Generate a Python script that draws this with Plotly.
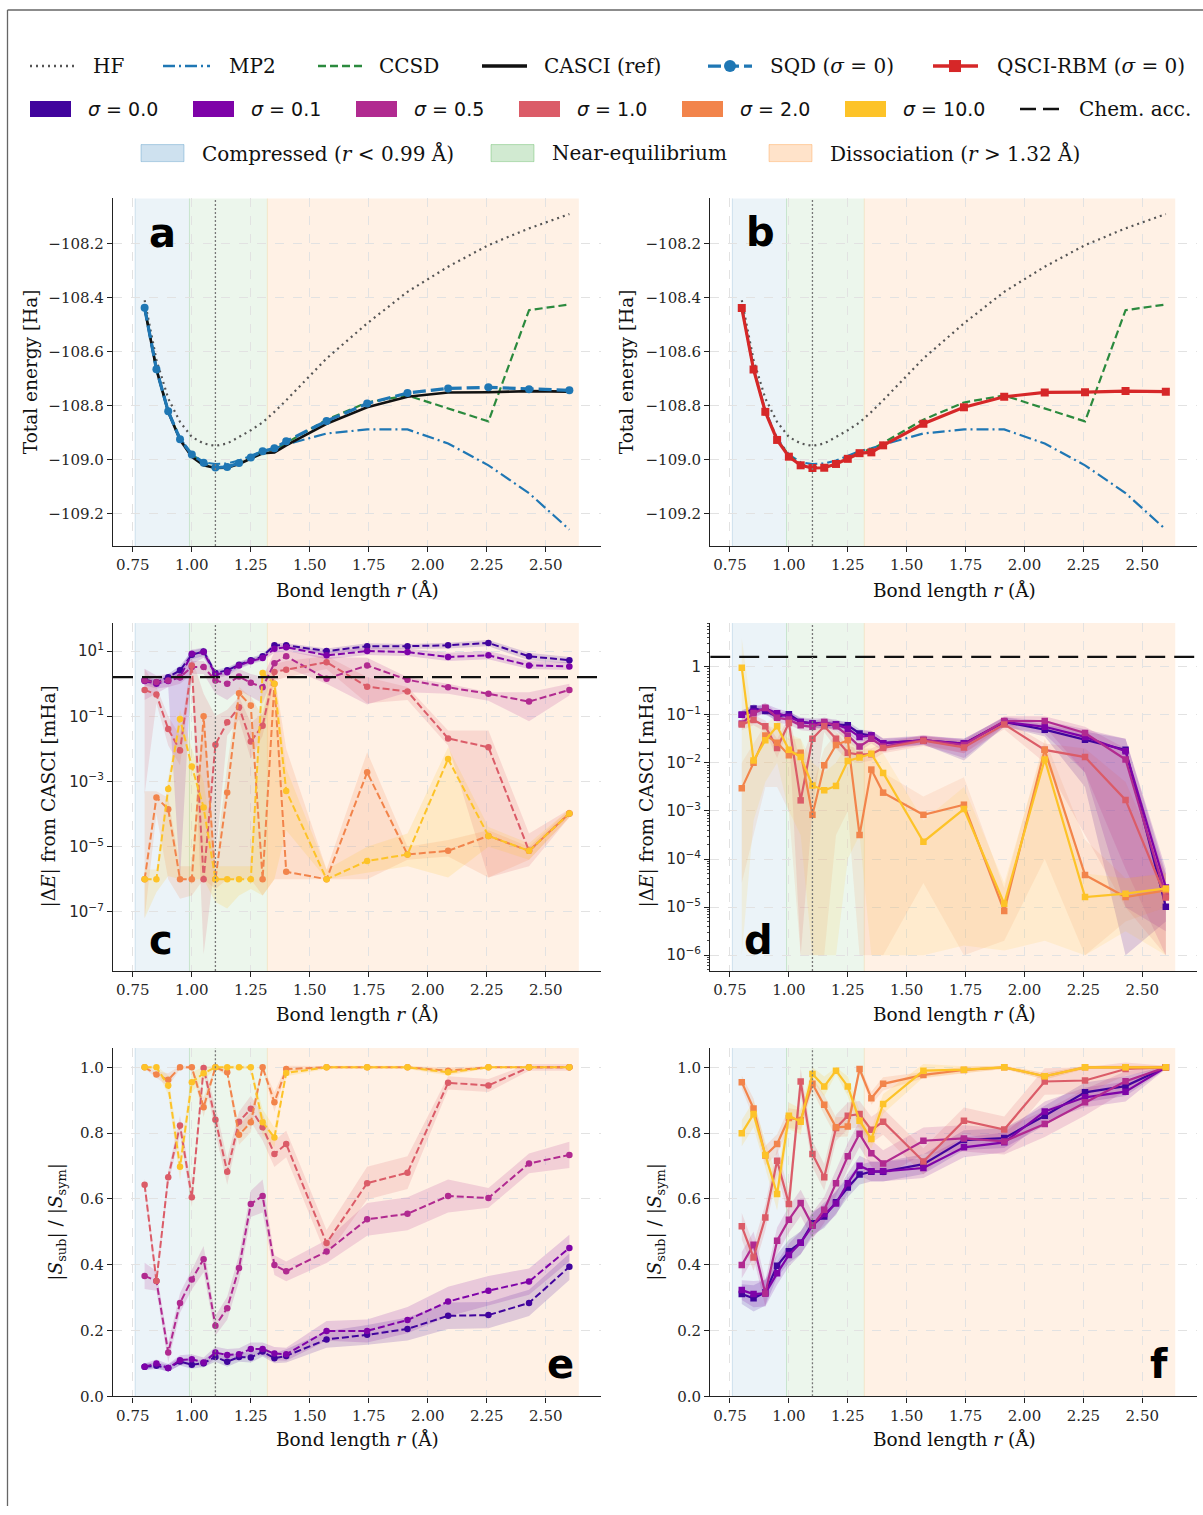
import plotly.graph_objects as go

W, H = 1203, 1515  # figure canvas in px
K = 1525 / 1515    # vertical layout factor applied to every pixel position

# ---------------------------------------------------------------- data
r = [0.80, 0.85, 0.90, 0.95, 1.00, 1.05, 1.10, 1.15, 1.20, 1.25, 1.30, 1.35,
     1.40, 1.571, 1.743, 1.914, 2.086, 2.257, 2.429, 2.60]
r_eq = 1.10
r_comp, r_diss = 0.99, 1.32
span_lo, span_hi = 0.76, 2.64
chem_acc = 1.6  # mHa

x_ticks = [0.75, 1.00, 1.25, 1.50, 1.75, 2.00, 2.25, 2.50]
x_ticktext = ["0.75", "1.00", "1.25", "1.50", "1.75", "2.00", "2.25", "2.50"]

# total energies [Ha]
e_hf = [-108.409, -108.630, -108.773, -108.860, -108.916, -108.940, -108.949, -108.940,
        -108.916, -108.891, -108.862, -108.823, -108.780, -108.625, -108.495, -108.378,
        -108.285, -108.205, -108.143, -108.090]
e_mp2 = [-108.432, -108.662, -108.818, -108.921, -108.981, -109.010, -109.016, -109.014,
         -109.003, -108.986, -108.968, -108.958, -108.944, -108.903, -108.888, -108.888,
         -108.940, -109.021, -109.124, -109.259]
e_ccsd = [-108.437, -108.665, -108.821, -108.925, -108.985, -109.016, -109.028, -109.026,
          -109.013, -108.993, -108.972, -108.962, -108.938, -108.852, -108.788, -108.762,
          -108.810, -108.858, -108.446, -108.425]
e_casci = [-108.438, -108.666, -108.823, -108.927, -108.989, -109.021, -109.031, -109.030,
           -109.016, -108.997, -108.976, -108.973, -108.947, -108.867, -108.806, -108.767,
           -108.751, -108.750, -108.746, -108.748]
e_sqd = [-108.437, -108.665, -108.821, -108.924, -108.981, -109.011, -109.029, -109.027,
         -109.012, -108.992, -108.969, -108.958, -108.932, -108.857, -108.792, -108.753,
         -108.736, -108.732, -108.739, -108.743]
e_rbm = [-108.4379, -108.6659, -108.8229, -108.9269, -108.9889, -109.0209, -109.0309,
         -109.0299, -109.0159, -108.9969, -108.9759, -108.9729, -108.9469, -108.8669,
         -108.8059, -108.7669, -108.7509, -108.7499, -108.7459, -108.7480]

sigma_names = ["0.0", "0.1", "0.5", "1.0", "2.0", "10.0"]
sigma_colors = ["#41049d", "#7e03a8", "#b12a90", "#db5c68", "#f2844b", "#fdc328"]

# log10 |dE| [mHa], SQD (line, upper, lower)
c_s00 = [0.12, 0.04, 0.20, 0.41, 0.89, 0.99, 0.33, 0.41, 0.58, 0.72, 0.84, 1.18, 1.18, 1.00, 1.15, 1.15, 1.18, 1.25, 0.84, 0.72]
c_s00_hi = [0.22, 0.14, 0.30, 0.55, 1.00, 1.10, 0.43, 0.50, 0.67, 0.80, 0.92, 1.26, 1.24, 1.08, 1.24, 1.22, 1.26, 1.34, 0.95, 0.82]
c_s00_lo = [0.02, -0.08, 0.08, 0.30, 0.75, 0.85, 0.22, 0.30, 0.48, 0.62, 0.74, 1.08, 1.10, 0.90, 1.05, 1.07, 1.08, 1.15, 0.72, 0.62]
c_s01 = [0.08, 0.00, 0.08, 0.20, 0.92, 0.97, 0.28, 0.35, 0.56, 0.69, 0.79, 1.07, 1.12, 0.87, 1.00, 0.97, 0.82, 0.87, 0.56, 0.53]
c_s01_hi = [0.20, 0.12, 0.20, 0.45, 1.05, 1.10, 0.40, 0.45, 0.66, 0.78, 0.88, 1.16, 1.20, 0.97, 1.10, 1.08, 0.95, 1.00, 0.70, 0.66]
c_s01_lo = [-0.05, -0.15, -0.10, -6.0, 0.60, 0.80, 0.15, 0.25, 0.45, 0.60, 0.70, 0.95, 1.00, 0.75, 0.88, 0.85, 0.70, 0.75, 0.45, 0.42]
c_s05 = [0.10, 0.05, 0.10, 0.20, 0.51, 0.51, 0.10, 0.00, 0.22, 0.03, -0.11, 0.63, 0.84, 0.15, 0.56, 0.12, -0.11, -0.31, -0.55, -0.19]
c_s05_hi = [0.46, 0.25, 0.30, 0.40, 0.70, 0.70, 0.30, 0.30, 0.45, 0.30, 0.20, 0.97, 1.00, 0.82, 0.80, 0.20, 0.00, -0.26, -0.26, 0.00]
c_s05_lo = [-0.50, -0.30, -0.10, 0.00, 0.30, 0.30, -0.30, -0.50, -0.20, -0.40, -0.60, 0.30, 0.50, 0.00, -0.64, -0.26, -0.31, -0.52, -1.15, -0.36]
c_s10 = [-0.19, -0.33, -1.39, -2.05, 0.56, -6.0, -1.87, -1.18, -0.72, -1.77, -1.29, 0.36, 0.43, 0.66, -0.09, -0.24, -1.68, -1.95, -5.13, -3.98]
c_s10_hi = [0.46, -0.10, -1.00, -1.60, 0.80, -0.30, -1.00, -0.80, -0.40, -1.20, -0.90, 0.60, 0.70, 0.85, 0.20, -0.10, -1.44, -1.44, -4.60, -3.85]
c_s10_lo = [-3.40, -0.60, -1.90, -2.50, 0.20, -8.30, -5.40, -1.60, -1.10, -2.30, -1.60, 0.10, 0.20, 0.45, -0.60, -0.50, -1.90, -5.95, -5.60, -4.10]
c_s20 = [-6.0, -3.49, -3.85, -6.0, -6.0, -1.00, -6.0, -3.34, -0.29, -0.67, -6.0, 0.00, -5.77, -6.0, -2.72, -5.24, -5.13, -4.67, -5.13, -3.98]
c_s20_hi = [-3.30, -3.30, -3.50, -5.60, -5.60, -0.80, -5.50, -2.50, -0.10, -0.40, -1.00, 0.30, -2.00, -5.70, -2.10, -5.00, -4.80, -4.50, -5.00, -3.85]
c_s20_lo = [-7.20, -4.00, -6.00, -6.60, -6.50, -6.00, -6.30, -6.00, -6.00, -6.00, -6.50, -6.00, -6.00, -6.00, -6.00, -5.40, -5.30, -5.95, -5.40, -4.10]
c_s100 = [-6.0, -6.0, -3.23, -1.08, -2.54, -3.80, -6.0, -6.0, -6.0, -6.0, 0.33, 0.00, -3.29, -6.0, -5.44, -5.24, -2.31, -4.67, -5.13, -3.98]
c_s100_hi = [-5.70, -5.70, -2.90, -0.80, -2.00, -3.00, -5.60, -5.60, -5.60, -5.60, 0.45, 0.30, -2.60, -5.70, -5.00, -4.60, -1.95, -4.40, -4.90, -3.85]
c_s100_lo = [-7.20, -6.40, -5.90, -6.00, -6.00, -6.00, -6.70, -6.90, -6.50, -6.30, -6.50, -6.00, -4.50, -6.00, -5.80, -5.60, -5.95, -5.00, -5.40, -4.10]

# log10 |dE| [mHa], QSCI-RBM (line, upper, lower)
d_s00 = [-1.00, -0.87, -0.92, -1.04, -0.99, -1.15, -1.18, -1.22, -1.20, -1.22, -1.39, -1.43, -1.59, -1.53, -1.60, -1.15, -1.31, -1.52, -1.73, -4.99]
d_s00_hi = [-0.92, -0.78, -0.84, -0.96, -0.92, -1.08, -1.10, -1.14, -1.12, -1.14, -1.30, -1.34, -1.50, -1.45, -1.50, -1.05, -1.20, -1.35, -1.50, -4.30]
d_s00_lo = [-1.08, -0.95, -1.00, -1.12, -1.06, -1.22, -1.26, -1.30, -1.28, -1.30, -1.48, -1.52, -1.68, -1.62, -1.95, -1.25, -1.45, -2.50, -6.00, -5.30]
d_s01 = [-1.00, -0.94, -0.87, -0.97, -1.04, -1.15, -1.18, -1.17, -1.20, -1.29, -1.46, -1.43, -1.59, -1.53, -1.60, -1.15, -1.25, -1.46, -1.76, -4.59]
d_s01_hi = [-0.90, -0.84, -0.77, -0.87, -0.94, -1.05, -1.08, -1.07, -1.10, -1.19, -1.36, -1.33, -1.49, -1.43, -1.50, -1.05, -1.12, -1.30, -1.50, -4.20]
d_s01_lo = [-1.10, -1.04, -0.97, -1.07, -1.14, -1.25, -1.28, -1.27, -1.30, -1.39, -1.56, -1.53, -1.69, -1.63, -1.90, -1.25, -1.40, -2.20, -5.00, -5.50]
d_s05 = [-1.18, -0.97, -0.855, -1.06, -1.10, -1.22, -1.25, -1.15, -1.24, -1.43, -1.66, -1.50, -1.66, -1.52, -1.63, -1.13, -1.13, -1.38, -1.93, -4.77]
d_s05_hi = [-1.08, -0.87, -0.75, -0.96, -1.00, -1.12, -1.15, -1.05, -1.14, -1.33, -1.56, -1.40, -1.56, -1.42, -1.53, -1.03, -1.03, -1.25, -1.70, -4.40]
d_s05_lo = [-1.28, -1.07, -0.96, -1.16, -1.20, -1.32, -1.35, -1.25, -1.34, -1.53, -1.76, -1.60, -1.76, -1.62, -1.80, -1.23, -1.25, -2.20, -4.20, -6.00]
d_s10 = [-1.20, -1.11, -1.24, -1.69, -1.17, -2.78, -1.50, -1.24, -1.50, -1.79, -1.83, -1.82, -1.69, -1.54, -1.68, -1.20, -1.73, -1.88, -2.77, -4.80]
d_s10_hi = [-1.10, -1.00, -1.12, -1.50, -1.05, -2.00, -1.30, -1.12, -1.35, -1.65, -1.70, -1.70, -1.58, -1.44, -1.56, -1.10, -1.60, -1.70, -2.40, -4.30]
d_s10_lo = [-1.32, -1.22, -1.36, -1.90, -1.30, -6.00, -3.00, -1.36, -1.70, -1.95, -2.00, -1.95, -1.80, -1.65, -1.80, -1.30, -2.00, -3.50, -5.00, -6.00]
d_s20 = [-2.53, -2.00, -1.43, -1.58, -1.84, -1.79, -3.08, -2.05, -1.63, -1.53, -3.50, -2.14, -2.62, -3.08, -2.87, -5.08, -1.73, -4.33, -4.79, -4.65]
d_s20_hi = [-2.00, -1.60, -1.20, -1.30, -1.50, -1.50, -2.50, -1.70, -1.40, -1.30, -2.00, -1.70, -2.20, -2.70, -2.30, -4.60, -1.50, -3.60, -4.40, -4.30]
d_s20_lo = [-4.50, -3.50, -2.50, -2.50, -3.00, -6.00, -6.00, -6.00, -3.50, -3.00, -6.00, -6.00, -6.00, -4.50, -6.00, -5.70, -4.00, -6.00, -5.30, -5.00]
d_s100 = [-0.02, -1.95, -1.53, -1.24, -1.73, -1.88, -2.47, -2.57, -2.48, -1.96, -1.89, -1.81, -2.21, -3.64, -2.96, -4.93, -1.93, -4.79, -4.72, -4.61]
d_s100_hi = [0.59, -1.20, -1.20, -1.00, -1.40, -1.50, -2.00, -2.20, -2.00, -1.60, -1.60, -1.50, -1.80, -3.20, -2.50, -4.50, -1.60, -4.30, -4.40, -4.30]
d_s100_lo = [-6.00, -3.20, -2.40, -2.00, -3.00, -3.50, -6.00, -6.00, -6.00, -4.00, -3.50, -6.00, -6.00, -6.00, -5.80, -5.90, -5.70, -6.00, -5.50, -6.00]

# |S_sub| / |S_sym|, SQD (line, band half-width)
e_s00 = [0.090, 0.093, 0.086, 0.106, 0.096, 0.101, 0.120, 0.105, 0.120, 0.118, 0.136, 0.116, 0.123, 0.173, 0.187, 0.205, 0.245, 0.247, 0.284, 0.394]
e_s00_w = [0.010, 0.010, 0.010, 0.012, 0.012, 0.012, 0.015, 0.015, 0.015, 0.015, 0.015, 0.015, 0.020, 0.025, 0.030, 0.035, 0.040, 0.040, 0.040, 0.040]
e_s01 = [0.090, 0.100, 0.086, 0.110, 0.113, 0.103, 0.133, 0.126, 0.128, 0.144, 0.144, 0.130, 0.128, 0.199, 0.199, 0.232, 0.288, 0.321, 0.349, 0.451]
e_s01_w = [0.010, 0.012, 0.012, 0.015, 0.015, 0.015, 0.018, 0.018, 0.018, 0.020, 0.020, 0.020, 0.020, 0.030, 0.035, 0.040, 0.045, 0.045, 0.040, 0.040]
e_s05 = [0.366, 0.351, 0.133, 0.284, 0.355, 0.417, 0.215, 0.268, 0.390, 0.585, 0.609, 0.399, 0.380, 0.440, 0.538, 0.555, 0.609, 0.603, 0.708, 0.734]
e_s05_w = [0.040, 0.030, 0.030, 0.030, 0.030, 0.040, 0.030, 0.035, 0.040, 0.040, 0.050, 0.030, 0.030, 0.035, 0.050, 0.050, 0.050, 0.030, 0.030, 0.040]
e_s10 = [0.643, 0.351, 0.666, 0.823, 0.605, 0.998, 0.841, 0.683, 0.835, 0.874, 0.818, 0.737, 0.767, 0.466, 0.648, 0.680, 0.953, 0.945, 1.000, 1.000]
e_s10_w = [0.020, 0.020, 0.020, 0.030, 0.030, 0.020, 0.040, 0.040, 0.030, 0.040, 0.040, 0.040, 0.040, 0.040, 0.050, 0.050, 0.020, 0.020, 0.010, 0.010]
e_s20 = [1.000, 0.978, 0.962, 1.000, 1.000, 0.879, 1.000, 0.985, 0.795, 0.833, 1.000, 0.894, 0.995, 1.000, 1.000, 1.000, 0.990, 1.000, 1.000, 1.000]
e_s20_w = [0.005, 0.010, 0.020, 0.005, 0.005, 0.030, 0.005, 0.010, 0.030, 0.030, 0.005, 0.030, 0.010, 0.003, 0.003, 0.003, 0.010, 0.003, 0.003, 0.003]
e_s100 = [1.000, 1.000, 0.945, 0.698, 0.955, 0.982, 1.000, 1.000, 1.000, 1.000, 0.833, 0.787, 0.983, 1.000, 1.000, 1.000, 0.985, 1.000, 1.000, 1.000]
e_s100_w = [0.005, 0.005, 0.030, 0.040, 0.030, 0.020, 0.005, 0.005, 0.005, 0.005, 0.040, 0.030, 0.010, 0.005, 0.005, 0.005, 0.010, 0.003, 0.003, 0.003]

# |S_sub| / |S_sym|, QSCI-RBM (line, band half-width)
f_s00 = [0.311, 0.298, 0.316, 0.397, 0.441, 0.467, 0.526, 0.547, 0.590, 0.635, 0.674, 0.683, 0.683, 0.706, 0.779, 0.785, 0.853, 0.924, 0.943, 1.000]
f_s00_w = [0.030, 0.040, 0.040, 0.035, 0.035, 0.035, 0.035, 0.035, 0.035, 0.030, 0.030, 0.030, 0.030, 0.030, 0.030, 0.030, 0.030, 0.030, 0.030, 0.005]
f_s01 = [0.323, 0.311, 0.313, 0.374, 0.430, 0.467, 0.519, 0.554, 0.586, 0.648, 0.701, 0.684, 0.684, 0.694, 0.757, 0.772, 0.866, 0.909, 0.926, 1.000]
f_s01_w = [0.030, 0.040, 0.040, 0.035, 0.035, 0.035, 0.035, 0.035, 0.035, 0.030, 0.030, 0.030, 0.030, 0.030, 0.030, 0.030, 0.030, 0.030, 0.030, 0.005]
f_s05 = [0.399, 0.461, 0.313, 0.473, 0.537, 0.588, 0.519, 0.567, 0.648, 0.730, 0.798, 0.739, 0.708, 0.777, 0.784, 0.775, 0.828, 0.894, 0.958, 1.000]
f_s05_w = [0.040, 0.040, 0.040, 0.040, 0.040, 0.040, 0.040, 0.040, 0.040, 0.040, 0.040, 0.040, 0.040, 0.040, 0.040, 0.040, 0.040, 0.040, 0.030, 0.005]
f_s10 = [0.517, 0.422, 0.544, 0.716, 0.585, 0.957, 0.737, 0.666, 0.816, 0.853, 0.858, 0.810, 0.835, 0.714, 0.838, 0.811, 0.957, 0.960, 0.995, 1.000]
f_s10_w = [0.040, 0.040, 0.040, 0.040, 0.040, 0.040, 0.040, 0.040, 0.040, 0.040, 0.040, 0.040, 0.040, 0.040, 0.040, 0.040, 0.040, 0.040, 0.020, 0.005]
f_s20 = [0.955, 0.875, 0.732, 0.767, 0.846, 0.840, 0.950, 0.886, 0.818, 0.820, 0.995, 0.906, 0.950, 0.977, 0.992, 1.000, 0.973, 1.000, 1.000, 1.000]
f_s20_w = [0.020, 0.030, 0.030, 0.030, 0.030, 0.030, 0.020, 0.030, 0.030, 0.030, 0.010, 0.020, 0.020, 0.010, 0.010, 0.005, 0.010, 0.005, 0.005, 0.005]
f_s100 = [0.800, 0.858, 0.734, 0.615, 0.853, 0.835, 0.980, 0.942, 0.990, 0.942, 0.838, 0.782, 0.889, 0.990, 0.993, 1.000, 0.973, 1.000, 1.000, 1.000]
f_s100_w = [0.040, 0.040, 0.040, 0.050, 0.040, 0.040, 0.020, 0.030, 0.010, 0.030, 0.030, 0.030, 0.030, 0.020, 0.010, 0.005, 0.010, 0.005, 0.005, 0.005]

# ---------------------------------------------------------------- helpers
X_RANGE = [0.666, 2.734]
LEFT = [113 / W, 601 / W]
RIGHT = [710.2 / W, 1197.4 / W]


def ydom(top_px, bot_px):
    return [1 - bot_px * K / H, 1 - top_px * K / H]


ROW1 = ydom(198.3, 545.7)
ROW2 = ydom(622.7, 970.5)
ROW3 = ydom(1047.3, 1395.5)

SERIF = "DejaVu Serif"
SANS = "DejaVu Sans"
INK = "#262626"


def rgba(hex_color, a):
    h = hex_color.lstrip("#")
    return f"rgba({int(h[0:2], 16)},{int(h[2:4], 16)},{int(h[4:6], 16)},{a})"


def names(n):
    return ("x", "y") if n == 1 else (f"x{n}", f"y{n}")


def pow10(vals):
    return [10 ** v for v in vals]


fig = go.Figure()


def band(n, lo, hi, color, alpha=0.17):
    xa, ya = names(n)
    fig.add_trace(go.Scatter(x=r + r[::-1], y=hi + lo[::-1], xaxis=xa, yaxis=ya,
                             mode="lines", fill="toself", fillcolor=rgba(color, alpha),
                             line=dict(width=0), hoverinfo="skip", showlegend=False))


def curve(n, y, color, width=2, dash="solid", symbol=None, size=6, xs=None):
    xa, ya = names(n)
    fig.add_trace(go.Scatter(
        x=xs if xs is not None else r, y=y, xaxis=xa, yaxis=ya,
        mode="lines+markers" if symbol else "lines",
        line=dict(color=color, width=width, dash=dash),
        marker=dict(symbol=symbol or "circle", size=size, color=color, line=dict(width=0)),
        hoverinfo="skip", showlegend=False))


# ---------------------------------------------------------------- panels a, b
for n in (1, 2):
    curve(n, e_hf, "#555555", width=2.2, dash="2px,4px")
    curve(n, e_mp2, "#1f77b4", width=2.2, dash="12px,4px,2px,4px")
    curve(n, e_ccsd, "#2b8a3e", width=2.2, dash="8px,4px")
curve(1, e_casci, "#111111", width=2.6)
curve(1, e_sqd, "#1f77b4", width=3.2, dash="13px,5px", symbol="circle", size=8)
curve(2, e_rbm, "#d62728", width=3.2, symbol="square", size=8)

# ---------------------------------------------------------------- panels c, d
c_lines = [c_s00, c_s01, c_s05, c_s10, c_s20, c_s100]
c_his = [c_s00_hi, c_s01_hi, c_s05_hi, c_s10_hi, c_s20_hi, c_s100_hi]
c_los = [c_s00_lo, c_s01_lo, c_s05_lo, c_s10_lo, c_s20_lo, c_s100_lo]
d_lines = [d_s00, d_s01, d_s05, d_s10, d_s20, d_s100]
d_his = [d_s00_hi, d_s01_hi, d_s05_hi, d_s10_hi, d_s20_hi, d_s100_hi]
d_los = [d_s00_lo, d_s01_lo, d_s05_lo, d_s10_lo, d_s20_lo, d_s100_lo]
d_alpha = [0.17, 0.17, 0.17, 0.15, 0.12, 0.12]

for k, col in enumerate(sigma_colors):
    band(3, pow10(c_los[k]), pow10(c_his[k]), col)
    band(4, pow10(d_los[k]), pow10(d_his[k]), col, alpha=d_alpha[k])
for k, col in enumerate(sigma_colors):
    curve(3, pow10(c_lines[k]), col, width=2, dash="7px,3px", symbol="circle", size=6.5)
    curve(4, pow10(d_lines[k]), col, width=2.2, symbol="square", size=6.5)
for n in (3, 4):
    curve(n, [chem_acc, chem_acc], "#111111", width=2.2, dash="20px,9px", xs=X_RANGE)

# ---------------------------------------------------------------- panels e, f
e_lines = [e_s00, e_s01, e_s05, e_s10, e_s20, e_s100]
e_ws = [e_s00_w, e_s01_w, e_s05_w, e_s10_w, e_s20_w, e_s100_w]
f_lines = [f_s00, f_s01, f_s05, f_s10, f_s20, f_s100]
f_ws = [f_s00_w, f_s01_w, f_s05_w, f_s10_w, f_s20_w, f_s100_w]

for k, col in enumerate(sigma_colors):
    band(5, [v - w for v, w in zip(e_lines[k], e_ws[k])],
         [v + w for v, w in zip(e_lines[k], e_ws[k])], col)
    band(6, [v - w for v, w in zip(f_lines[k], f_ws[k])],
         [v + w for v, w in zip(f_lines[k], f_ws[k])], col)
for k, col in enumerate(sigma_colors):
    curve(5, e_lines[k], col, width=2, dash="7px,3px", symbol="circle", size=6.5)
    curve(6, f_lines[k], col, width=2.2, symbol="square", size=6.5)

# ---------------------------------------------------------------- axes
tick_font = dict(family=SERIF, size=15, color=INK)
log_font = dict(family=SANS, size=15, color=INK)
common_x = dict(range=X_RANGE, tickvals=x_ticks, ticktext=x_ticktext, tickfont=tick_font,
                showline=True, linecolor="#222", linewidth=1.3, ticks="outside",
                ticklen=5, tickwidth=1.2, tickcolor="#222", showgrid=True,
                gridcolor="#e2e2e2", gridwidth=0.8, griddash="dash", zeroline=False)
common_y = dict(showline=True, linecolor="#222", linewidth=1.3, ticks="outside",
                ticklen=5, tickwidth=1.2, tickcolor="#222", showgrid=True,
                gridcolor="#e2e2e2", gridwidth=0.8, griddash="dash", zeroline=False)

panels = {
    1: (LEFT, ROW1), 2: (RIGHT, ROW1),
    3: (LEFT, ROW2), 4: (RIGHT, ROW2),
    5: (LEFT, ROW3), 6: (RIGHT, ROW3),
}
layout_axes = {}
for n, (xd, yd) in panels.items():
    xk = "xaxis" if n == 1 else f"xaxis{n}"
    yk = "yaxis" if n == 1 else f"yaxis{n}"
    xa, ya = names(n)
    layout_axes[xk] = dict(common_x, domain=xd, anchor=ya)
    yax = dict(common_y, domain=yd, anchor=xa)
    if n in (1, 2):
        yax.update(range=[-109.320, -108.032],
                   tickvals=[-109.2, -109.0, -108.8, -108.6, -108.4, -108.2],
                   ticktext=["\u2212109.2", "\u2212109.0", "\u2212108.8",
                             "\u2212108.6", "\u2212108.4", "\u2212108.2"],
                   tickfont=tick_font)
    elif n == 3:
        yax.update(type="log", range=[-8.82, 1.86],
                   tickvals=[1e1, 1e-1, 1e-3, 1e-5, 1e-7],
                   ticktext=["10<sup>1</sup>", "10<sup>\u22121</sup>", "10<sup>\u22123</sup>",
                             "10<sup>\u22125</sup>", "10<sup>\u22127</sup>"],
                   tickfont=log_font)
    elif n == 4:
        yax.update(type="log", range=[-6.33, 0.906],
                   tickvals=[1, 1e-1, 1e-2, 1e-3, 1e-4, 1e-5, 1e-6],
                   ticktext=["1", "10<sup>\u22121</sup>", "10<sup>\u22122</sup>",
                             "10<sup>\u22123</sup>", "10<sup>\u22124</sup>",
                             "10<sup>\u22125</sup>", "10<sup>\u22126</sup>"],
                   tickfont=log_font,
                   minor=dict(ticks="outside", ticklen=2.5, tickwidth=0.8,
                              tickcolor="#444", dtick="D1", showgrid=False))
    else:
        yax.update(range=[0, 1.059], tickvals=[0, 0.2, 0.4, 0.6, 0.8, 1.0],
                   ticktext=["0.0", "0.2", "0.4", "0.6", "0.8", "1.0"],
                   tickfont=tick_font)
    layout_axes[yk] = yax

# ---------------------------------------------------------------- shapes
shapes = []
regions = [(span_lo, r_comp, "#1f77b4", 0.09), (r_comp, r_diss, "#2ca02c", 0.09),
           (r_diss, span_hi, "#ff7f0e", 0.105)]
for n in panels:
    xa, ya = names(n)
    for x0, x1, col, a in regions:
        shapes.append(dict(type="rect", xref=xa, yref=f"{ya} domain", x0=x0, x1=x1,
                           y0=0, y1=1, fillcolor=rgba(col, a), line=dict(width=0),
                           layer="below"))
    for xe, col in [(span_lo, "#1f77b4"), (r_comp, "#2ca02c"), (r_diss, "#e0b040")]:
        shapes.append(dict(type="line", xref=xa, yref=f"{ya} domain", x0=xe, x1=xe,
                           y0=0, y1=1, line=dict(color=rgba(col, 0.18), width=1),
                           layer="below"))
    shapes.append(dict(type="line", xref=xa, yref=f"{ya} domain", x0=r_eq, x1=r_eq,
                       y0=0, y1=1, line=dict(color="#777", width=1.3, dash="2px,2px"),
                       layer="above"))


def P(x, y):
    return x / W, 1 - y * K / H


# outer frame
fx0, fy0 = P(7.5, 10)
shapes.append(dict(type="line", xref="paper", yref="paper", x0=fx0, y0=fy0, x1=1.0, y1=fy0,
                   line=dict(color="#666", width=1.3)))
shapes.append(dict(type="line", xref="paper", yref="paper", x0=fx0, y0=fy0, x1=fx0, y1=0.0,
                   line=dict(color="#666", width=1.3)))

annotations = []


def legend_line(x0, x1, y, color, width, dash):
    a, b = P(x0, y)
    c, _ = P(x1, y)
    shapes.append(dict(type="line", xref="paper", yref="paper", x0=a, x1=c, y0=b, y1=b,
                       line=dict(color=color, width=width, dash=dash)))


def legend_patch(x0, x1, yc, h, fill, edge=None):
    a, b = P(x0, yc - h / 2)
    c, d = P(x1, yc + h / 2)
    shapes.append(dict(type="rect", xref="paper", yref="paper", x0=a, x1=c, y0=d, y1=b,
                       fillcolor=fill, line=dict(width=1 if edge else 0, color=edge or fill)))


def legend_marker(xc, yc, half, kind, color):
    a, b = P(xc - half, yc - half)
    c, d = P(xc + half, yc + half)
    shapes.append(dict(type="circle" if kind == "circle" else "rect", xref="paper",
                       yref="paper", x0=a, x1=c, y0=d, y1=b, fillcolor=color,
                       line=dict(width=0)))


def legend_text(x, y, text, family=SERIF, size=20):
    a, b = P(x, y)
    annotations.append(dict(x=a, y=b, xref="paper", yref="paper", text=text,
                            showarrow=False, xanchor="left", yanchor="middle",
                            font=dict(family=family, size=size, color="#111")))


# legend row 1: methods
y1 = 66
legend_line(30, 74, y1, "#555555", 2.4, "2px,4px")
legend_text(91, y1, "HF")
legend_line(163, 210, y1, "#1f77b4", 2.4, "12px,4px,2px,4px")
legend_text(227, y1, "MP2")
legend_line(318, 362, y1, "#2b8a3e", 2.4, "8px,4px")
legend_text(377, y1, "CCSD")
legend_line(482, 527, y1, "#111111", 3.5, "solid")
legend_text(542, y1, "CASCI (ref)")
legend_line(708, 752, y1, "#1f77b4", 3.2, "13px,5px")
legend_marker(730, y1, 6, "circle", "#1f77b4")
legend_text(768, y1, "SQD (<i>\u03c3</i> = 0)")
legend_line(933, 978, y1, "#d62728", 3.5, "solid")
legend_marker(955, y1, 6, "square", "#d62728")
legend_text(995, y1, "QSCI-RBM (<i>\u03c3</i> = 0)")

# legend row 2: shot-noise levels
y2 = 109
patch_x = [30, 193, 356, 519, 682, 845]
for px0, name, col in zip(patch_x, sigma_names, sigma_colors):
    legend_patch(px0, px0 + 41, y2, 16, col)
    legend_text(px0 + 56, y2, f"<i>\u03c3</i> = {name}", family=SANS, size=19)
legend_line(1020, 1062, y2, "#111111", 2.4, "16px,7px")
legend_text(1077, y2, "Chem. acc.")

# legend row 3: regimes
y3 = 153
for px0, label, col in [(141, "Compressed (<i>r</i> &lt; 0.99 \u00c5)", "#1f77b4"),
                        (491, "Near-equilibrium", "#2ca02c"),
                        (769, "Dissociation (<i>r</i> &gt; 1.32 \u00c5)", "#ff7f0e")]:
    legend_patch(px0, px0 + 43, y3, 17, rgba(col, 0.22), edge=rgba(col, 0.3))
    legend_text(px0 + 59, y3, label)

# axis titles
xlab = "Bond length <i>r</i> (\u00c5)"
for cx, cy in [(357, 590), (954, 590), (357, 1014), (954, 1014), (357, 1439), (954, 1439)]:
    a, b = P(cx, cy)
    annotations.append(dict(x=a, y=b, xref="paper", yref="paper", text=xlab, showarrow=False,
                            xanchor="center", yanchor="middle",
                            font=dict(family=SERIF, size=18.5, color="#111")))
ylabs = [
    ("Total energy [Ha]", 30, 372), ("Total energy [Ha]", 626, 372),
    ("|\u0394<i>E</i>| from CASCI [mHa]", 49, 796), ("|\u0394<i>E</i>| from CASCI [mHa]", 647, 796),
    ("|<i>S</i><sub>sub</sub>| / |<i>S</i><sub>sym</sub>|", 57, 1221),
    ("|<i>S</i><sub>sub</sub>| / |<i>S</i><sub>sym</sub>|", 656, 1221),
]
for text, cx, cy in ylabs:
    a, b = P(cx, cy)
    annotations.append(dict(x=a, y=b, xref="paper", yref="paper", text=text, showarrow=False,
                            xanchor="center", yanchor="middle", textangle=-90,
                            font=dict(family=SERIF, size=18.5, color="#111")))

# panel letters
for letter, cx, cy in [("a", 162, 233), ("b", 760, 232), ("c", 161, 939),
                       ("d", 758, 939), ("e", 560, 1363), ("f", 1159, 1363)]:
    a, b = P(cx, cy)
    annotations.append(dict(x=a, y=b, xref="paper", yref="paper", text=f"<b>{letter}</b>",
                            showarrow=False, xanchor="center", yanchor="middle",
                            font=dict(family=SANS, size=40, color="#000")))

fig.update_layout(
    width=W, height=H, margin=dict(l=0, r=0, t=0, b=0),
    paper_bgcolor="white", plot_bgcolor="white", showlegend=False,
    shapes=shapes, annotations=annotations, **layout_axes,
)

fig.write_html("out.html")
